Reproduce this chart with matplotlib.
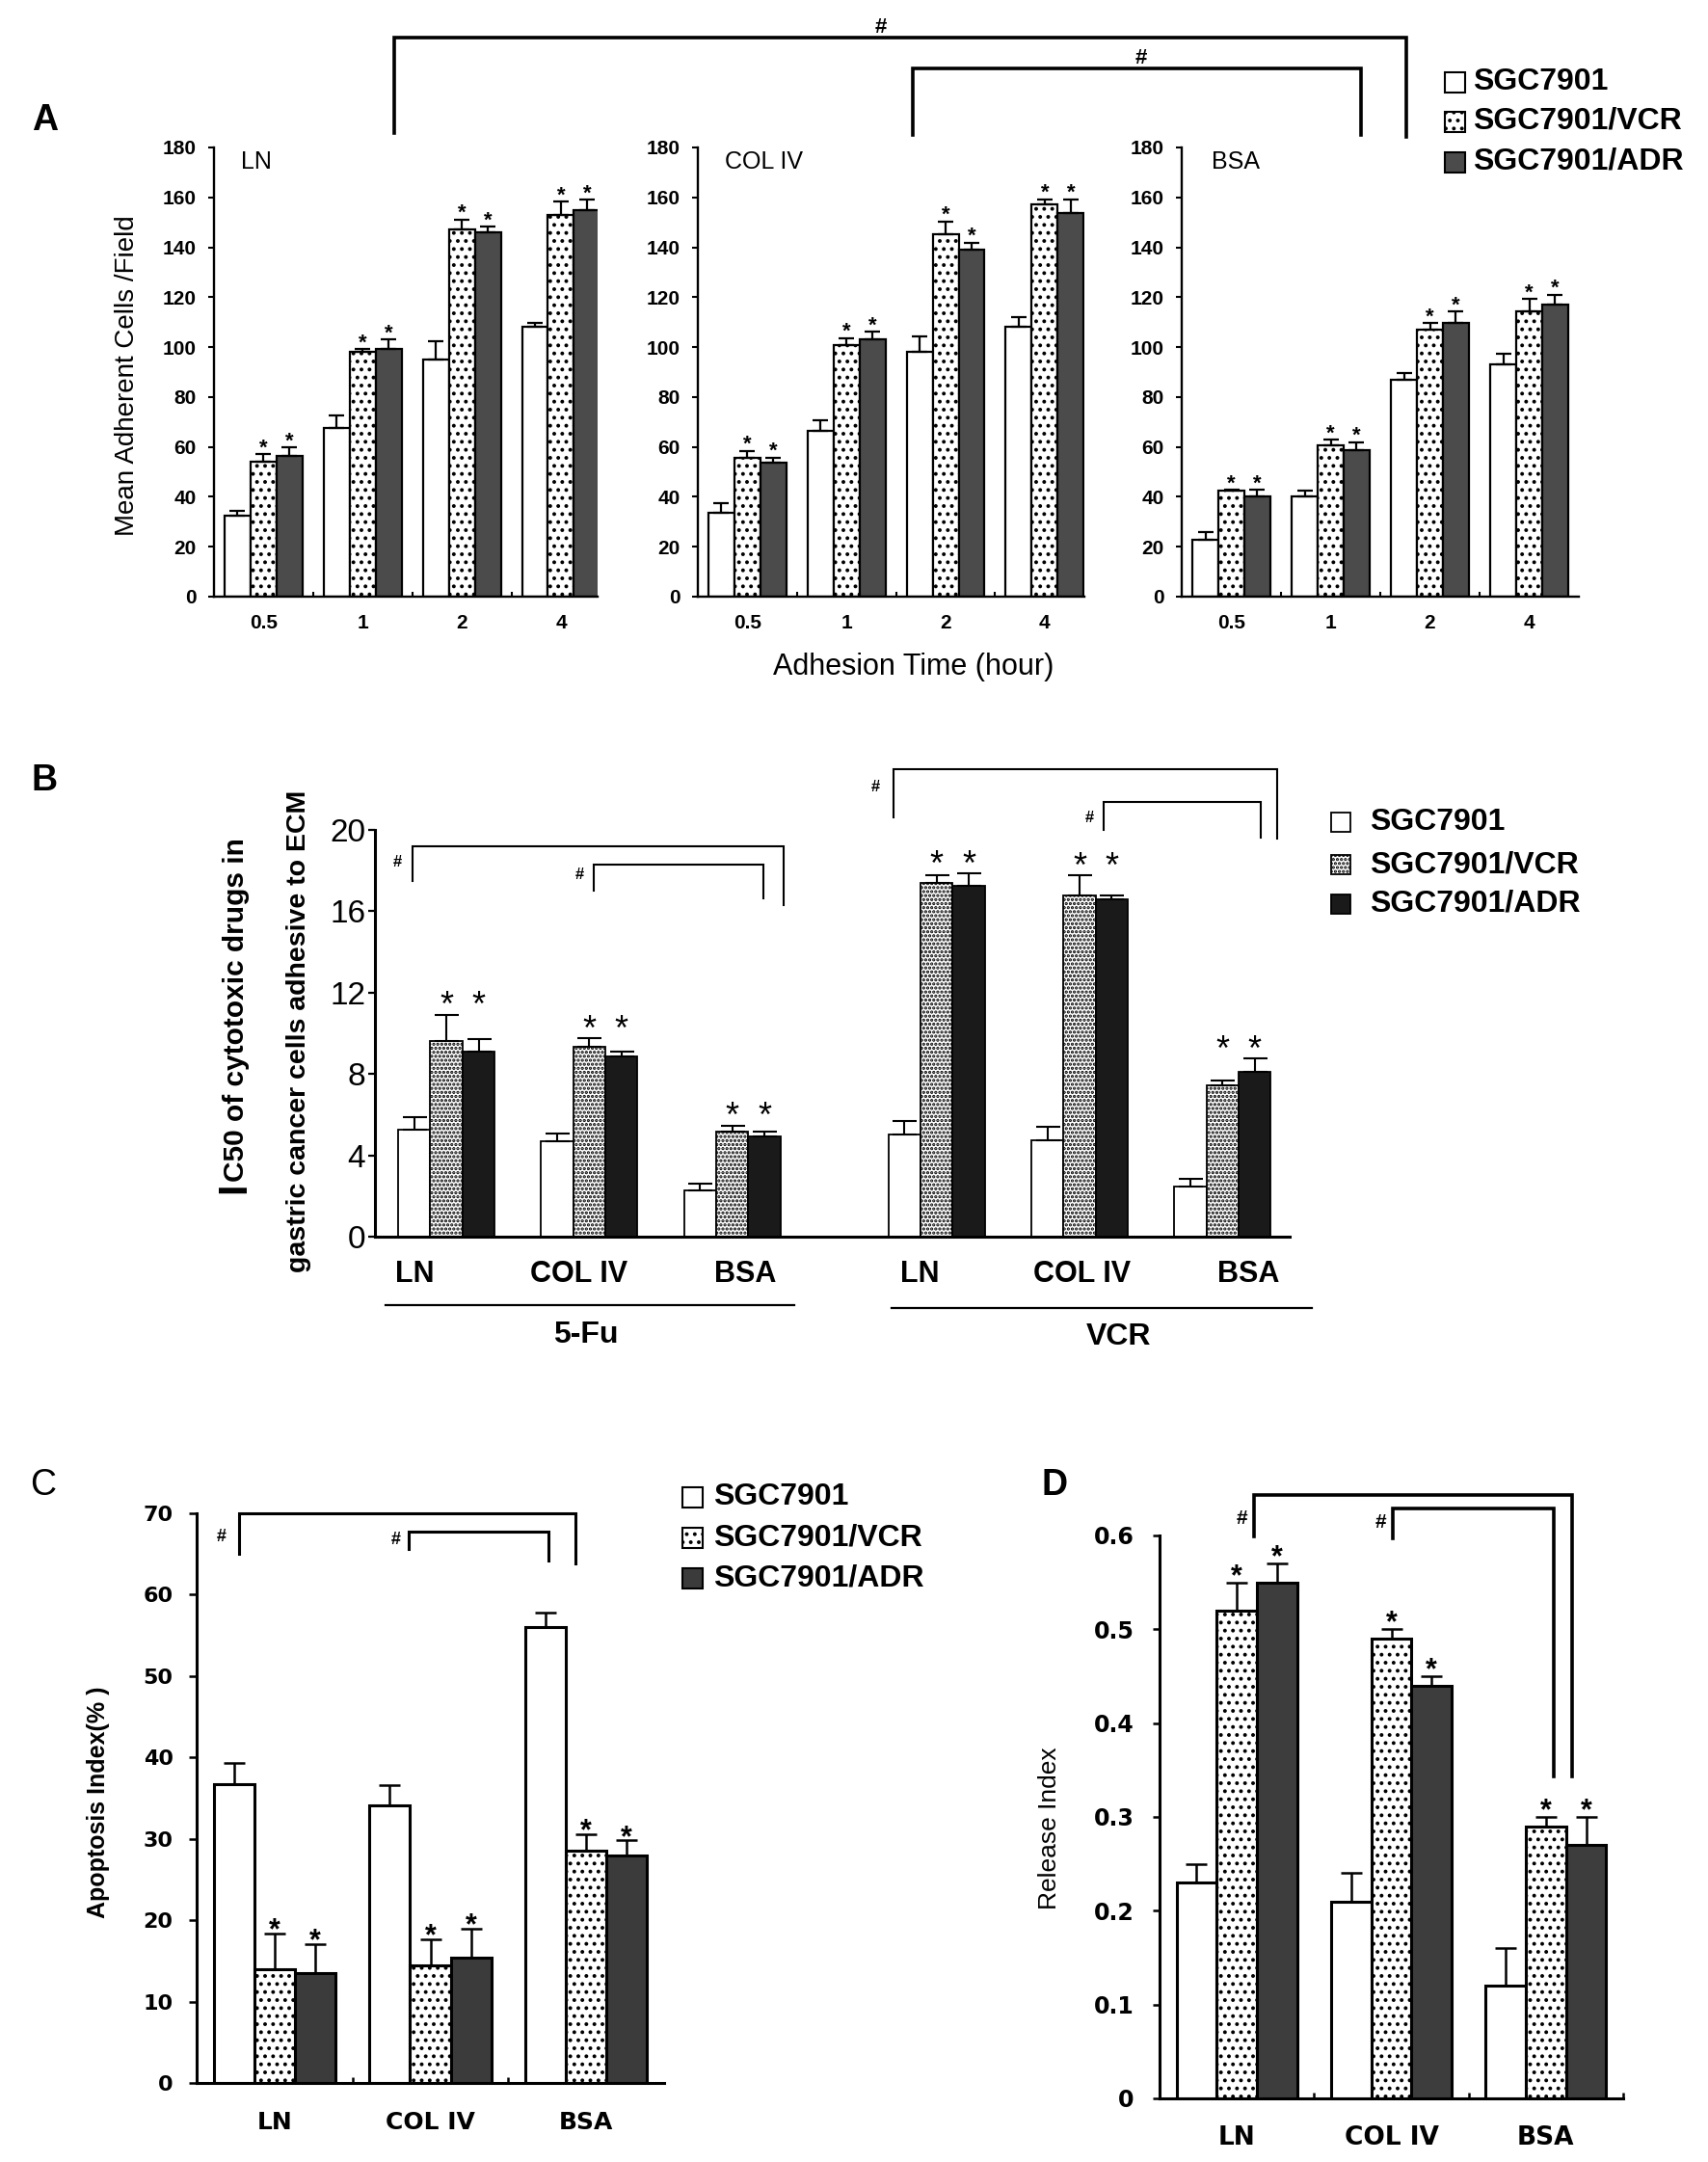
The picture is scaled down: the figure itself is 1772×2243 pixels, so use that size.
import numpy as np
import matplotlib
matplotlib.use("Agg")
import matplotlib.pyplot as plt
from matplotlib.patches import Rectangle
from matplotlib.lines import Line2D

# ---------------- data ----------------
series = ["SGC7901", "SGC7901/VCR", "SGC7901/ADR"]

A_times = ["0.5", "1", "2", "4"]
A_substrates = ["LN", "COL IV", "BSA"]

A_LN_white = [32.3, 67.7, 94.9, 108.2]
A_LN_white_err = [1.9, 5.0, 7.4, 1.4]
A_LN_vcr = [54.1, 98.1, 147.2, 152.9]
A_LN_vcr_err = [3.0, 1.2, 3.9, 5.5]
A_LN_adr = [56.4, 99.3, 146.0, 154.8]
A_LN_adr_err = [3.5, 3.7, 2.3, 4.3]

A_COL_white = [33.7, 66.5, 98.2, 108.1]
A_COL_white_err = [3.9, 4.1, 6.2, 4.1]
A_COL_vcr = [55.7, 100.7, 145.1, 157.4]
A_COL_vcr_err = [2.8, 3.0, 5.2, 1.8]
A_COL_adr = [53.6, 103.2, 139.1, 153.9]
A_COL_adr_err = [2.1, 3.0, 2.8, 5.3]

A_BSA_white = [22.8, 40.0, 86.8, 93.0]
A_BSA_white_err = [3.0, 2.3, 3.0, 4.3]
A_BSA_vcr = [42.3, 60.5, 107.1, 114.2]
A_BSA_vcr_err = [0.4, 2.3, 2.6, 5.0]
A_BSA_adr = [40.0, 58.7, 109.7, 116.9]
A_BSA_adr_err = [2.7, 3.2, 4.5, 4.1]

B_substrates = ["LN", "COL IV", "BSA", "LN", "COL IV", "BSA"]
B_drugs = ["5-Fu", "VCR"]
B_white = [5.27, 4.67, 2.28, 5.03, 4.73, 2.47]
B_white_err = [0.60, 0.40, 0.35, 0.64, 0.66, 0.36]
B_vcr = [9.62, 9.32, 5.17, 17.37, 16.77, 7.43]
B_vcr_err = [1.28, 0.42, 0.30, 0.39, 0.99, 0.23]
B_adr = [9.08, 8.88, 4.93, 17.25, 16.57, 8.12]
B_adr_err = [0.64, 0.24, 0.24, 0.61, 0.23, 0.64]

C_substrates = ["LN", "COL IV", "BSA"]
C_white = [36.75, 34.1, 56.0]
C_white_err = [2.55, 2.5, 1.8]
C_vcr = [14.0, 14.5, 28.5]
C_vcr_err = [4.4, 3.2, 2.1]
C_adr = [13.5, 15.4, 27.9]
C_adr_err = [3.6, 3.6, 1.9]

D_substrates = ["LN", "COL IV", "BSA"]
D_white = [0.23, 0.21, 0.12]
D_white_err = [0.02, 0.03, 0.04]
D_vcr = [0.52, 0.49, 0.29]
D_vcr_err = [0.03, 0.01, 0.01]
D_adr = [0.55, 0.44, 0.27]
D_adr_err = [0.02, 0.01, 0.03]

# ---------------- helpers ----------------
W, H, DPI = 1772, 2243, 100
plt.rcParams["font.family"] = ["Liberation Sans", "DejaVu Sans"]
plt.rcParams["hatch.linewidth"] = 1.6
plt.rcParams["hatch.color"] = "black"

fig = plt.figure(figsize=(W / DPI, H / DPI), dpi=DPI)
fig.patch.set_facecolor("white")


def rect(l, t, r, b):
    return [l / W, 1 - b / H, (r - l) / W, (b - t) / H]


def ftext(x, y, s, **kw):
    fig.text(x / W, 1 - y / H, s, **kw)


def fline(xs, ys, **kw):
    fig.add_artist(Line2D([x / W for x in xs], [1 - y / H for y in ys],
                          transform=fig.transFigure, solid_joinstyle="miter", **kw))


def fbox(x, y, w, h, **kw):
    fig.add_artist(Rectangle((x / W, 1 - (y + h) / H), w / W, h / H,
                             transform=fig.transFigure, **kw))


def style_axes(ax, lw):
    for s in ("top", "right"):
        ax.spines[s].set_visible(False)
    for s in ("left", "bottom"):
        ax.spines[s].set_linewidth(lw)
    ax.patch.set_alpha(0)


def bars(ax, centers, width, data, styles, lw, elw, cap, star_sets, star_kw, star_off, star_group=False):
    centers = np.asarray(centers, float)
    tops = []
    for k, ((vals, errs), st) in enumerate(zip(data, styles)):
        xs = centers + (k - 1) * width
        vals = np.asarray(vals, float)
        errs = np.asarray(errs, float)
        ax.bar(xs, vals, width, color=st[0], edgecolor="black", hatch=st[1],
               linewidth=lw, zorder=2)
        ax.errorbar(xs, vals, yerr=[np.zeros_like(errs), errs], fmt="none",
                    ecolor="black", elinewidth=elw, capsize=cap, capthick=elw, zorder=3)
        tops.append(vals + errs)
    for k in star_sets:
        xs = centers + (k - 1) * width
        for i, x in enumerate(xs):
            y = max(tops[1][i], tops[2][i]) if star_group else tops[k][i]
            ax.annotate("*", (x, y), xytext=(0, star_off), textcoords="offset points",
                        ha="center", va="baseline", annotation_clip=False, **star_kw)


# ---------------- Panel A ----------------
A_data = [
    ("LN", [(A_LN_white, A_LN_white_err), (A_LN_vcr, A_LN_vcr_err), (A_LN_adr, A_LN_adr_err)],
     (222, 153, 620, 619), 3.37, (250, 168)),
    ("COL IV", [(A_COL_white, A_COL_white_err), (A_COL_vcr, A_COL_vcr_err), (A_COL_adr, A_COL_adr_err)],
     (724, 153, 1125, 619), 3.40, (752, 168)),
    ("BSA", [(A_BSA_white, A_BSA_white_err), (A_BSA_vcr, A_BSA_vcr_err), (A_BSA_adr, A_BSA_adr_err)],
     (1226, 153, 1638, 619), 3.50, (1257, 168)),
]
A_styles = [("white", ""), ("white", ".."), ("#4b4b4b", "")]
for name, data, r, xr, tpos in A_data:
    ax = fig.add_axes(rect(*r))
    style_axes(ax, 1.7)
    bars(ax, np.arange(len(A_times)), 0.262, data, A_styles, 1.6, 1.6, 6,
         [1, 2], dict(fontsize=16, fontweight="bold"), 0.5)
    ax.set_xlim(-0.5, xr)
    ax.set_ylim(0, 180)
    ax.set_yticks(np.arange(0, 181, 20))
    ax.tick_params(axis="y", direction="out", length=4.5, width=1.5, pad=8.5,
                   labelsize=15)
    for t in ax.get_yticklabels():
        t.set_fontweight("bold")
    ax.set_xticks(np.arange(len(A_times)))
    ax.set_xticklabels(A_times, fontsize=15, fontweight="bold")
    ax.set_xticks([0.5, 1.5, 2.5], minor=True)
    ax.tick_params(axis="x", which="major", length=0, pad=13)
    ax.tick_params(axis="x", which="minor", direction="in", length=3.5, width=1.5)
    ftext(tpos[0], tpos[1], name, fontsize=18, ha="left", va="center")

ftext(47, 125, "A", fontsize=27, fontweight="bold", ha="center", va="center")
ftext(132, 390, "Mean Adherent Cells /Field", fontsize=20, rotation=90,
      ha="center", va="center")
ftext(948, 692, "Adhesion Time (hour)", fontsize=22, ha="center", va="center")

# A brackets
fline([409, 409, 1459, 1459], [138, 39, 39, 142], color="black", lw=2.6)
fline([947, 947, 1412, 1412], [140, 71, 71, 140], color="black", lw=2.6)
ftext(914, 28, "#", fontsize=16, fontweight="bold", ha="center", va="center")
ftext(1184, 60, "#", fontsize=16, fontweight="bold", ha="center", va="center")

# A legend
for i, (lab, st) in enumerate(zip(series, A_styles)):
    yc = [85, 126, 168][i]
    fbox(1499, yc - 10, 21, 21, facecolor=st[0], hatch=st[1], edgecolor="black", lw=1.5)
    ftext(1528, yc, lab, fontsize=23, fontweight="bold", ha="left", va="center")

# ---------------- Panel B ----------------
B_pos = [0, 1, 2, 3.43, 4.43, 5.43]
B_lab_pos = [-0.22, 0.93, 2.09, 3.31, 4.45, 5.61]
B_styles = [("white", ""), ("white", "...."), ("#1a1a1a", "")]
axB = fig.add_axes(rect(389, 861, 1338, 1283))
style_axes(axB, 2.2)
bars(axB, B_pos, 0.225, [(B_white, B_white_err), (B_vcr, B_vcr_err), (B_adr, B_adr_err)],
     B_styles, 1.3, 1.5, 9, [1, 2], dict(fontsize=26), -1, star_group=True)
axB.set_xlim(-0.5, 5.9)
axB.set_ylim(0, 20)
axB.set_yticks(np.arange(0, 21, 4))
axB.tick_params(axis="y", direction="out", length=5, width=1.6, pad=2, labelsize=24)
axB.set_xticks(B_lab_pos)
axB.set_xticklabels(B_substrates, fontsize=22, fontweight="bold")
axB.tick_params(axis="x", which="major", length=0, pad=17)

def bbr(ax, xs, ys, hx, hy, lw, fs):
    ax.plot(xs, ys, color="black", lw=lw, clip_on=False, solid_joinstyle="miter")
    ax.text(hx, hy, "#", fontsize=fs, fontweight="bold", ha="center", va="center", clip_on=False)

bbr(axB, [-0.24, -0.24, 2.36, 2.36], [17.5, 19.2, 19.2, 16.3], -0.34, 18.4, 1.5, 12)
bbr(axB, [1.03, 1.03, 2.22, 2.22], [17.0, 18.3, 18.3, 16.65], 0.93, 17.8, 1.5, 12)
bbr(axB, [3.13, 3.13, 5.81, 5.81], [20.6, 23.0, 23.0, 19.56], 3.0, 22.1, 1.5, 12)
bbr(axB, [4.60, 4.60, 5.70, 5.70], [20.0, 21.36, 21.36, 19.64], 4.5, 20.6, 1.5, 12)

ftext(46, 810, "B", fontsize=27, fontweight="bold", ha="center", va="center")
ftext(243, 1238, "I", fontsize=30, fontweight="bold", rotation=90, ha="center", va="bottom")
ftext(245, 1226, "C50 of cytotoxic drugs in", fontsize=21.5, fontweight="bold",
      rotation=90, ha="center", va="bottom")
ftext(310, 1070, "gastric cancer cells adhesive to ECM", fontsize=20.5, fontweight="bold",
      rotation=90, ha="center", va="center")
fline([400, 824], [1354, 1354], color="black", lw=1.6)
fline([925, 1361], [1357, 1357], color="black", lw=1.6)
ftext(608, 1385, B_drugs[0], fontsize=23, fontweight="bold", ha="center", va="center")
ftext(1161, 1387, B_drugs[1], fontsize=23, fontweight="bold", ha="center", va="center")

for i, (lab, st) in enumerate(zip(series, B_styles)):
    yc = [853, 897, 938][i]
    fbox(1381, yc - 10, 20, 20, facecolor=st[0], hatch=st[1], edgecolor="black", lw=1.3)
    ftext(1421, yc, lab, fontsize=23, fontweight="bold", ha="left", va="center")

# ---------------- Panel C ----------------
C_styles = [("white", ""), ("white", ".."), ("#3b3b3b", "")]
axC = fig.add_axes(rect(204, 1570, 689, 2161))
style_axes(axC, 2.2)
bars(axC, np.arange(3), 0.26, [(C_white, C_white_err), (C_vcr, C_vcr_err), (C_adr, C_adr_err)],
     C_styles, 2.2, 1.8, 8, [1, 2], dict(fontsize=22, fontweight="bold"), -4)
axC.set_xlim(-0.5, 2.5)
axC.set_ylim(0, 70)
axC.set_yticks(np.arange(0, 71, 10))
axC.tick_params(axis="y", direction="out", length=5.5, width=1.8, pad=12)
for t in axC.get_yticklabels():
    t.set_fontfamily("DejaVu Sans"); t.set_fontweight("bold"); t.set_fontsize(16)
axC.set_xticks(np.arange(3))
axC.set_xticklabels(C_substrates, fontsize=18, fontweight="bold", fontfamily="DejaVu Sans")
axC.set_xticks([0.5, 1.5], minor=True)
axC.tick_params(axis="x", which="major", length=0, pad=21)
axC.tick_params(axis="x", which="minor", direction="in", length=4, width=1.8)

bbr(axC, [-0.23, -0.23, 1.93, 1.93], [65.0, 70.0, 70.0, 63.8], -0.34, 67.1, 2.2, 13)
bbr(axC, [0.86, 0.86, 1.76, 1.76], [65.6, 67.7, 67.7, 64.2], 0.78, 66.7, 2.2, 13)

ftext(45, 1541, "C", fontsize=27, ha="center", va="center")
ftext(102, 1870, "Apoptosis Index(% )", fontsize=18, fontweight="bold", rotation=90,
      ha="center", va="center")
for i, (lab, st) in enumerate(zip(series, C_styles)):
    yc = [1553, 1595, 1637][i]
    fbox(708, yc - 10, 21, 21, facecolor=st[0], hatch=st[1], edgecolor="black", lw=1.5)
    ftext(740, yc, lab, fontsize=23, fontweight="bold", ha="left", va="center")

# ---------------- Panel D ----------------
D_styles = [("white", ""), ("white", ".."), ("#3d3d3d", "")]
axD = fig.add_axes(rect(1203, 1593, 1684, 2177))
style_axes(axD, 2.2)
bars(axD, np.arange(3), 0.26, [(D_white, D_white_err), (D_vcr, D_vcr_err), (D_adr, D_adr_err)],
     D_styles, 2.2, 1.8, 8, [1, 2], dict(fontsize=22, fontweight="bold"), -1.5)
axD.set_xlim(-0.5, 2.5)
axD.set_ylim(0, 0.6)
axD.set_yticks(np.arange(0, 0.61, 0.1))
axD.set_yticklabels(["0"] + ["%.1f" % v for v in np.arange(0.1, 0.61, 0.1)])
axD.tick_params(axis="y", direction="out", length=5, width=1.8, pad=14)
for t in axD.get_yticklabels():
    t.set_fontfamily("DejaVu Sans"); t.set_fontweight("bold"); t.set_fontsize(17)
axD.set_xticks(np.arange(3))
axD.set_xticklabels(D_substrates, fontsize=19, fontweight="bold", fontfamily="DejaVu Sans")
axD.set_xticks([0.5, 1.5, 2.5], minor=True)
axD.tick_params(axis="x", which="major", length=0, pad=20)
axD.tick_params(axis="x", which="minor", direction="in", length=4, width=1.8)

bbr(axD, [0.11, 0.11, 2.17, 2.17], [0.5985, 0.6435, 0.6435, 0.3435], 0.03, 0.618, 2.6, 15)
bbr(axD, [1.01, 1.01, 2.05, 2.05], [0.597, 0.6285, 0.6285, 0.3435], 0.93, 0.6135, 2.6, 15)

ftext(1094, 1541, "D", fontsize=27, fontweight="bold", ha="center", va="center")
ftext(1089, 1897, "Release Index", fontsize=19, rotation=90, ha="center", va="center")

fig.savefig("out.png", dpi=DPI, facecolor="white")
